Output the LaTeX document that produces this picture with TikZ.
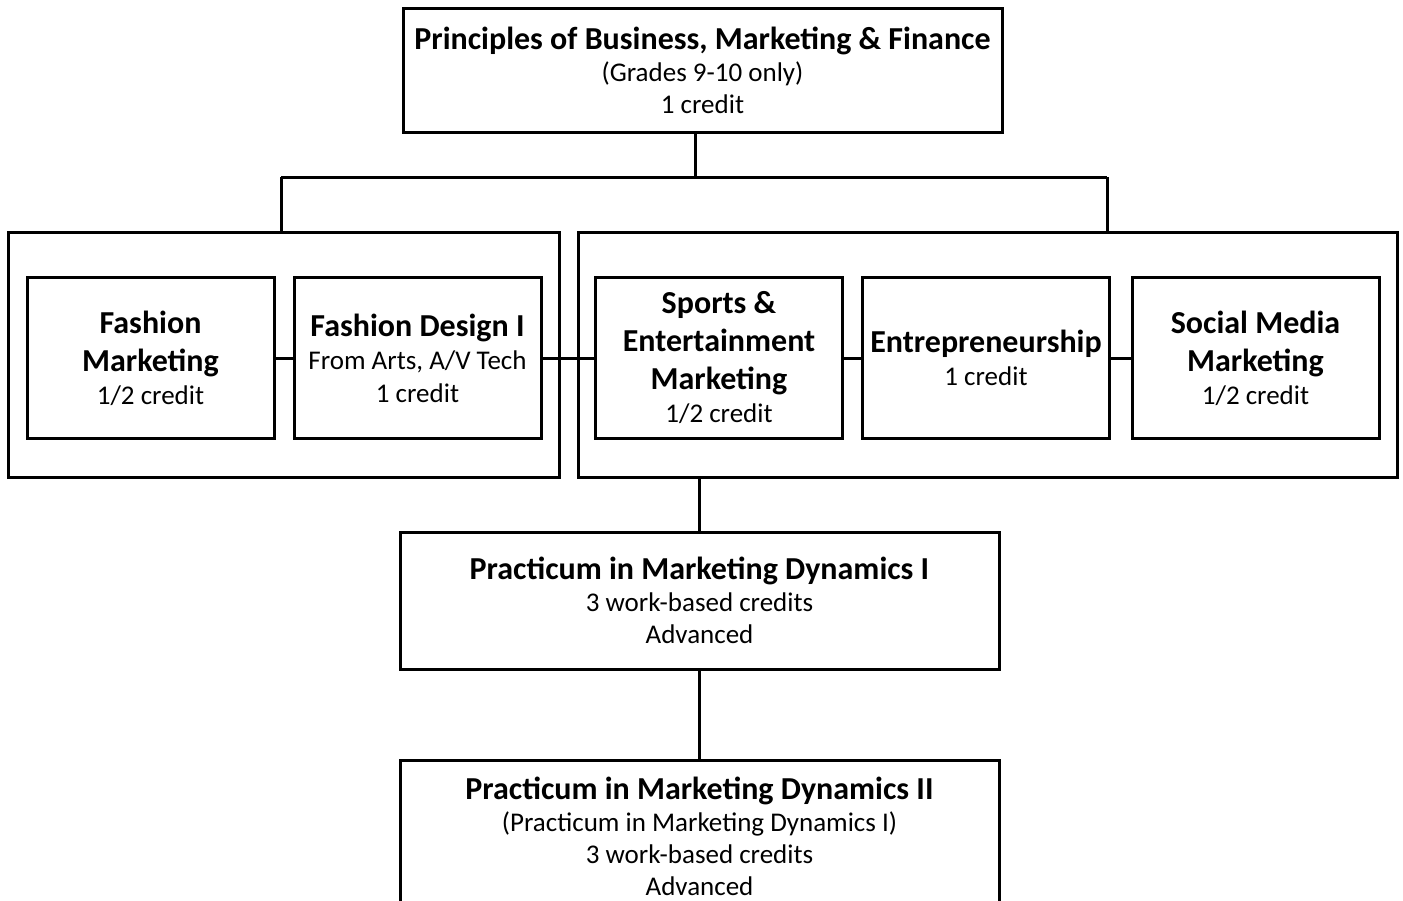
\documentclass[tikz,border=0pt]{standalone}
\usepackage{fontspec}
\setmainfont{Carlito}
\usetikzlibrary{positioning}
\tikzset{
    course/.style = {rectangle,
                    draw=black,
                    line width=3pt,
                    align=center,
                    inner sep=0pt,
                    minimum width=247pt,
                    minimum height=161pt,
                    font=\fontsize{27}{33}\selectfont},
    level/.style =  {rectangle,
                    draw=black,
                    line width=3pt,
                    align=center,
                    inner sep=0pt,
                    minimum width=599pt,
                    font=\fontsize{27}{32}\selectfont},
    group/.style =  {rectangle,
                    draw=black,
                    line width=3pt,
                    minimum height=245pt},
    link/.style =   {draw=black,
                    line width=3pt}}
\newcommand{\hd}[1]{{\fontsize{32}{38}\selectfont\bfseries #1}}

\begin{document}
\begin{tikzpicture}[x=1pt,y=-1pt]
                \clip (0,0) rectangle (1403,900);
                % top course
                \node[level, minimum height=124pt] (top) at (702.5,70)
                    {\hd{Principles of Business, Marketing \& Finance}\\(Grades 9-10 only)\\1 credit};
                % the two groups
                \node[group, minimum width=551pt] (lgrp) at (283.5,354.5) {};
                \node[group, minimum width=819pt] (rgrp) at (987.5,354.5) {};
                \node[course] (fm)  at (150.5,358) {\hd{Fashion}\\[5pt]\hd{Marketing}\\1/2 credit};
                \node[course] (fd)  at (417.5,358) {\hd{Fashion Design I}\\From Arts, A/V Tech\\1 credit};
                \node[course] (sem) at (719,358)   {\hd{Sports \&}\\[5pt]\hd{Entertainment}\\[5pt]\hd{Marketing}\\1/2 credit};
                \node[course] (ent) at (986,358)   {\hd{Entrepreneurship}\\1 credit};
                \node[course] (smm) at (1255.5,358) {\hd{Social Media}\\[5pt]\hd{Marketing}\\1/2 credit};
                % practicum
                \node[level, minimum height=137pt] (pmd1) at (699.5,600.5)
                    {\hd{Practicum in Marketing Dynamics I}\\3 work-based credits\\Advanced};
                \node[level, minimum height=152pt] (pmd2) at (699.5,836)
                    {\hd{Practicum in Marketing Dynamics II}\\(Practicum in Marketing Dynamics I)\\3 work-based credits\\Advanced};

                \coordinate (hub) at (695,177);
                \coordinate (jl)  at (281,177);
                \coordinate (jr)  at (1107,177);

                \path   (hub |- top.south) edge [link] (hub)
                        (jl) edge [link] (jr)
                        (jl) edge [link] (jl |- lgrp.north)
                        (jr) edge [link] (jr |- rgrp.north)
                        (fm) edge [link] (fd)
                        (fd) edge [link] (sem)
                        (sem) edge [link] (ent)
                        (ent) edge [link] (smm)
                        (pmd1.north) edge [link] (pmd1.north |- rgrp.south)
                        (pmd1) edge [link] (pmd2);
        \end{tikzpicture}
\end{document}
